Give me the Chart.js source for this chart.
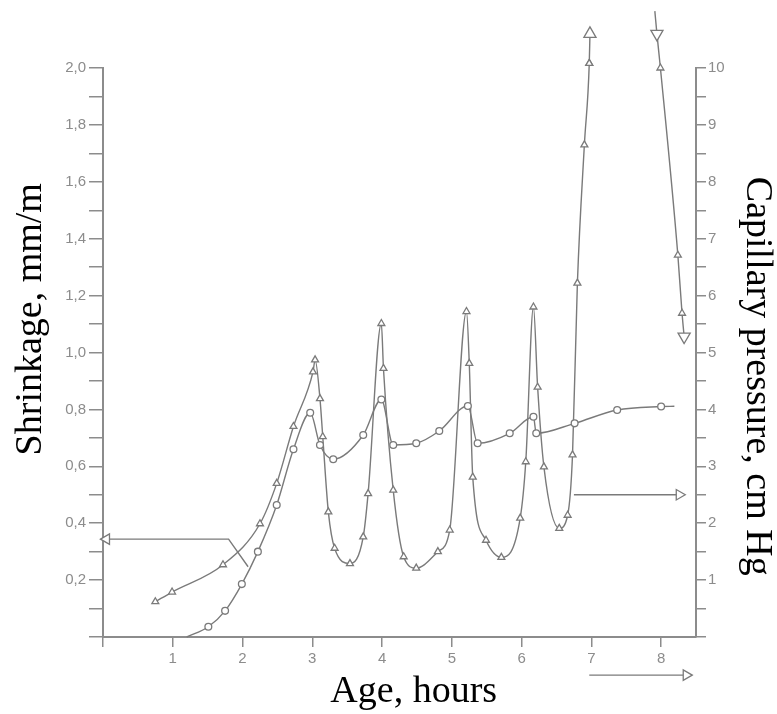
<!DOCTYPE html>
<html>
<head>
<meta charset="utf-8">
<script src="https://cdn.jsdelivr.net/npm/chart.js@4.4.1/dist/chart.umd.min.js"></script>
<style>
  html, body { margin: 0; padding: 0; background: #fff; }
  #wrap { width: 777px; height: 714px; }
</style>
</head>
<body>
<div id="wrap"><canvas id="chart"></canvas></div>
<script>
// Shrinkage, mm/m (left axis)
const shrinkHours = [1.20, 1.51, 1.75, 1.99, 2.22, 2.49, 2.73, 2.97, 3.11, 3.30, 3.73, 3.99, 4.16, 4.49, 4.82, 5.23, 5.37, 5.83, 6.17, 6.21, 6.76, 7.37, 8.00, 8.19];
const shrinkage   = [0.00, 0.036, 0.092, 0.186, 0.30, 0.464, 0.66, 0.788, 0.675, 0.625, 0.71, 0.835, 0.675, 0.681, 0.724, 0.812, 0.681, 0.716, 0.774, 0.716, 0.751, 0.798, 0.81, 0.811];

// Capillary pressure, cm Hg (right axis) - rising part up to the off-scale arrow
const capHours = [0.75, 0.99, 1.72, 2.25, 2.49, 2.73, 3.01, 3.04, 3.11, 3.15, 3.23, 3.32, 3.54, 3.73, 3.80, 3.99, 4.02, 4.16, 4.31, 4.49, 4.80, 4.97, 5.21, 5.25, 5.30, 5.49, 5.71, 5.98, 6.06, 6.17, 6.23, 6.32, 6.54, 6.66, 6.73, 6.80, 6.90, 6.97, 6.98];
const capPressure = [0.62, 0.79, 1.27, 1.99, 2.70, 3.70, 4.66, 4.87, 4.19, 3.52, 2.20, 1.56, 1.29, 1.76, 2.52, 5.51, 4.72, 2.58, 1.41, 1.21, 1.50, 1.88, 5.72, 4.81, 2.81, 1.70, 1.40, 2.09, 3.08, 5.80, 4.39, 2.99, 1.91, 2.14, 3.20, 6.22, 8.65, 10.08, 10.60];
// falling part coming back from above the scale
const capHoursFall = [7.91, 7.94, 7.99, 8.24, 8.30, 8.33];
const capPressureFall = [11.0, 10.6, 10.0, 6.71, 5.69, 5.28];

// guide arrows
const shrinkArrowHours = [0.05, 1.80, 2.08];
const shrinkArrowValue = [0.344, 0.344, 0.247];
const capArrowHours = [6.75, 8.26];
const capArrowValue = [2.5, 2.5];
const ageArrowHours = [6.97, 8.36];
const ageArrowValue = [-0.134, -0.134];

// ticks
const xTicks = [0, 1, 2, 3, 4, 5, 6, 7, 8];
const yTicks = [0, 0.1, 0.2, 0.3, 0.4, 0.5, 0.6, 0.7, 0.8, 0.9, 1.0, 1.1, 1.2, 1.3, 1.4, 1.5, 1.6, 1.7, 1.8, 1.9, 2.0];
const y2Ticks = [0, 0.5, 1, 1.5, 2, 2.5, 3, 3.5, 4, 4.5, 5, 5.5, 6, 6.5, 7, 7.5, 8, 8.5, 9, 9.5, 10];

const pts = (xs, ys) => xs.map((x, i) => ({ x: x, y: ys[i] }));

const gray = '#7a7a7a';
const axisGray = '#8c8c8c';
const tickFont = { family: 'Liberation Sans', size: 15 };
const titleFont = { family: 'Liberation Serif', size: 38, lineHeight: 1 };

const lineStyle = {
    borderColor: gray,
    borderWidth: 1.4,
    pointBackgroundColor: '#fff',
    pointBorderColor: gray,
    pointBorderWidth: 1.3,
    cubicInterpolationMode: 'monotone',
    clip: false
};

const arrowStyle = {
    borderColor: gray,
    borderWidth: 1.4,
    pointBackgroundColor: '#fff',
    pointBorderColor: gray,
    pointBorderWidth: 1.3,
    pointStyle: 'triangle',
    tension: 0,
    clip: false
};

// Chart.js skips points outside the chart area; the arrow heads sit outside it
const offAreaPoints = {
    id: 'offAreaPoints',
    afterDatasetsDraw(chart) {
        const a = chart.chartArea;
        const full = { left: 0, top: 0, right: chart.width, bottom: chart.height };
        chart.data.datasets.forEach((ds, i) => {
            chart.getDatasetMeta(i).data.forEach(el => {
                if (el.y < a.top || el.y > a.bottom || el.x < a.left || el.x > a.right) {
                    el.draw(chart.ctx, full);
                }
            });
        });
    }
};

new Chart(document.getElementById('chart'), {
    type: 'line',
    data: {
        datasets: [
            {
                ...arrowStyle,
                data: pts(shrinkArrowHours, shrinkArrowValue),
                yAxisID: 'y',
                pointRadius: ctx => ctx.dataIndex === 0 ? 6 : 0,
                pointRotation: -90
            },
            {
                ...arrowStyle,
                data: pts(capArrowHours, capArrowValue),
                yAxisID: 'y2',
                pointRadius: ctx => ctx.dataIndex === 1 ? 6 : 0,
                pointRotation: 90
            },
            {
                ...arrowStyle,
                data: pts(ageArrowHours, ageArrowValue),
                yAxisID: 'y',
                pointRadius: ctx => ctx.dataIndex === 1 ? 6 : 0,
                pointRotation: 90
            },
            {
                ...lineStyle,
                label: 'Shrinkage',
                data: pts(shrinkHours, shrinkage),
                yAxisID: 'y',
                pointStyle: 'circle',
                pointRadius: ctx => (ctx.dataIndex === 0 || ctx.dataIndex === shrinkHours.length - 1) ? 0 : 3.4
            },
            {
                ...lineStyle,
                label: 'Capillary pressure',
                data: pts(capHours, capPressure),
                yAxisID: 'y2',
                pointStyle: 'triangle',
                pointRadius: ctx => ctx.dataIndex === capHours.length - 1 ? 7 : 4
            },
            {
                ...lineStyle,
                label: 'Capillary pressure (falling)',
                data: pts(capHoursFall, capPressureFall),
                yAxisID: 'y2',
                pointStyle: 'triangle',
                pointRotation: ctx => (ctx.dataIndex === 1 || ctx.dataIndex === capHoursFall.length - 1) ? 180 : 0,
                pointRadius: ctx => ctx.dataIndex === 0 ? 0 : (ctx.dataIndex === 1 || ctx.dataIndex === capHoursFall.length - 1) ? 7 : 4
            }
        ]
    },
    options: {
        responsive: true,
        maintainAspectRatio: false,
        animation: false,
        layout: { padding: { top: 68 } },
        plugins: {
            legend: { display: false },
            tooltip: { enabled: false }
        },
        scales: {
            x: {
                type: 'linear',
                min: 0,
                max: 8.5,
                afterBuildTicks: s => { s.ticks = xTicks.map(v => ({ value: v })); },
                afterFit: s => { s.height = 77; },
                grid: { drawOnChartArea: false, tickLength: 10, color: axisGray, lineWidth: 1.5 },
                border: { color: axisGray, width: 2 },
                ticks: {
                    color: axisGray,
                    font: tickFont,
                    padding: 3,
                    maxRotation: 0,
                    callback: v => v === 0 ? '' : String(v)
                },
                title: {
                    display: true,
                    text: '   Age, hours',
                    color: '#000',
                    font: titleFont,
                    padding: { top: 0, bottom: 3 }
                }
            },
            y: {
                position: 'left',
                min: 0,
                max: 2.0,
                afterBuildTicks: s => { s.ticks = yTicks.map(v => ({ value: v })); },
                afterFit: s => { s.width = 103; },
                grid: { drawOnChartArea: false, tickLength: 14, color: axisGray, lineWidth: 1.5 },
                border: { color: axisGray, width: 2 },
                ticks: {
                    color: axisGray,
                    font: tickFont,
                    padding: 3,
                    callback: v => {
                        const k = Math.round(v * 10);
                        return (k > 0 && k % 2 === 0) ? (k / 10).toFixed(1).replace('.', ',') : '';
                    }
                },
                title: {
                    display: true,
                    text: '       Shrinkage, mm/m',
                    color: '#000',
                    font: titleFont,
                    padding: { top: 12, bottom: 0 }
                }
            },
            y2: {
                position: 'right',
                min: 0,
                max: 10,
                afterBuildTicks: s => { s.ticks = y2Ticks.map(v => ({ value: v })); },
                afterFit: s => { s.width = 81; },
                grid: { drawOnChartArea: false, tickLength: 10, color: axisGray, lineWidth: 1.5 },
                border: { color: axisGray, width: 2 },
                ticks: {
                    color: axisGray,
                    font: tickFont,
                    padding: 2,
                    callback: v => (v > 0 && Number.isInteger(v)) ? String(v) : ''
                },
                title: {
                    display: true,
                    text: '     Capillary pressure, cm Hg',
                    color: '#000',
                    font: titleFont,
                    padding: { top: 1, bottom: 0 }
                }
            }
        }
    },
    plugins: [offAreaPoints]
});
</script>
</body>
</html>
